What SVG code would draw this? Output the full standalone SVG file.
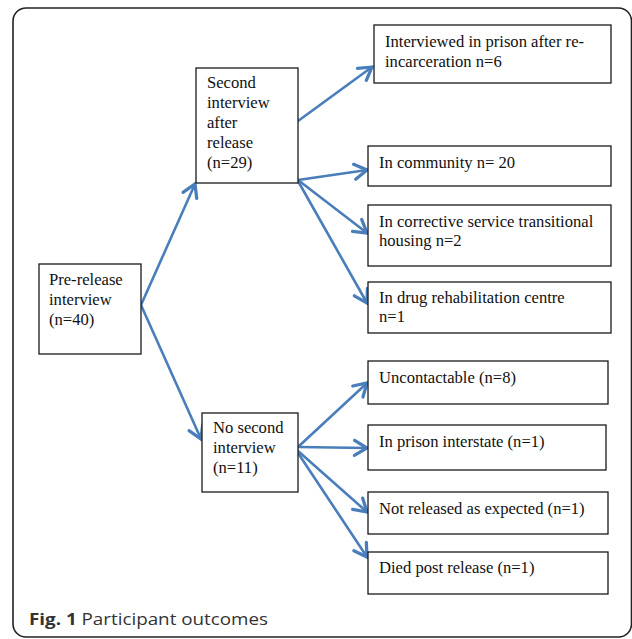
<svg xmlns="http://www.w3.org/2000/svg" width="632" height="639" viewBox="0 0 632 639">
<style>
.box{fill:#fff;stroke:#1a1a1a;stroke-width:1.3}
.t{font-family:"Liberation Serif","Times New Roman",serif;font-size:16.6px;fill:#111}
.c{fill:none;stroke:#4a7ebb;stroke-width:2.6;stroke-linecap:round}
.cap{font-family:"Open Sans","Noto Sans",sans-serif;font-size:16px;fill:#333}
</style>
<defs>
<marker id="ah" markerUnits="userSpaceOnUse" markerWidth="20" markerHeight="20" viewBox="-12 -8 14 16" refX="0" refY="0" orient="auto">
<path d="M-10,-6 L0,0 L-10,6" fill="none" stroke="#4a7ebb" stroke-width="2.6" stroke-linecap="round" stroke-linejoin="miter"/>
</marker>
</defs>
<rect x="13" y="8" width="618.5" height="629" rx="13" ry="13" fill="#fff" stroke="#222" stroke-width="1.6"/>
<g id="connectors">
<path class="c" d="M141,305 L195,184" marker-end="url(#ah)"/>
<path class="c" d="M141,305 L201,439" marker-end="url(#ah)"/>
<path class="c" d="M298,121 L372,67" marker-end="url(#ah)"/>
<path class="c" d="M298,180 L367,170" marker-end="url(#ah)"/>
<path class="c" d="M298,180 L367,233" marker-end="url(#ah)"/>
<path class="c" d="M298,181 L367,303" marker-end="url(#ah)"/>
<path class="c" d="M298,447 L367,383" marker-end="url(#ah)"/>
<path class="c" d="M298,447 L367,448" marker-end="url(#ah)"/>
<path class="c" d="M298,451 L367,512" marker-end="url(#ah)"/>
<path class="c" d="M298,453 L367,557" marker-end="url(#ah)"/>
</g>
<g id="pre-release">
<rect class="box" x="39" y="264" width="102" height="90"/>
<text class="t" x="49" y="285">Pre-release</text>
<text class="t" x="49" y="305">interview</text>
<text class="t" x="49" y="325">(n=40)</text>
</g>
<g id="second-interview">
<rect class="box" x="196" y="68" width="102" height="115"/>
<text class="t" x="207" y="88">Second</text>
<text class="t" x="207" y="108">interview</text>
<text class="t" x="207" y="128">after</text>
<text class="t" x="207" y="148">release</text>
<text class="t" x="207" y="168">(n=29)</text>
</g>
<g id="no-second-interview">
<rect class="box" x="202" y="413" width="96" height="79"/>
<text class="t" x="213" y="433">No second</text>
<text class="t" x="213" y="453">interview</text>
<text class="t" x="213" y="473">(n=11)</text>
</g>
<g id="interviewed-prison">
<rect class="box" x="374" y="25" width="237" height="58"/>
<text class="t" x="385" y="47">Interviewed in prison after re-</text>
<text class="t" x="385" y="67">incarceration n=6</text>
</g>
<g id="community">
<rect class="box" x="368" y="146" width="243" height="40"/>
<text class="t" x="379" y="168">In community n= 20</text>
</g>
<g id="transitional-housing">
<rect class="box" x="368" y="205" width="243" height="61"/>
<text class="t" x="379" y="227">In corrective service transitional</text>
<text class="t" x="379" y="246">housing n=2</text>
</g>
<g id="drug-rehab">
<rect class="box" x="368" y="282" width="243" height="51"/>
<text class="t" x="379" y="303">In drug rehabilitation centre</text>
<text class="t" x="379" y="322">n=1</text>
</g>
<g id="uncontactable">
<rect class="box" x="368" y="361" width="240" height="43"/>
<text class="t" x="379" y="383">Uncontactable (n=8)</text>
</g>
<g id="prison-interstate">
<rect class="box" x="368" y="425" width="238" height="45"/>
<text class="t" x="379" y="447">In prison interstate (n=1)</text>
</g>
<g id="not-released">
<rect class="box" x="368" y="492" width="240" height="42"/>
<text class="t" x="379" y="514">Not released as expected (n=1)</text>
</g>
<g id="died">
<rect class="box" x="368" y="552" width="240" height="42"/>
<text class="t" x="379" y="573">Died post release (n=1)</text>
</g>
<text class="cap" x="29" y="625" textLength="239" lengthAdjust="spacingAndGlyphs"><tspan font-weight="bold">Fig. 1</tspan> Participant outcomes</text>
</svg>
